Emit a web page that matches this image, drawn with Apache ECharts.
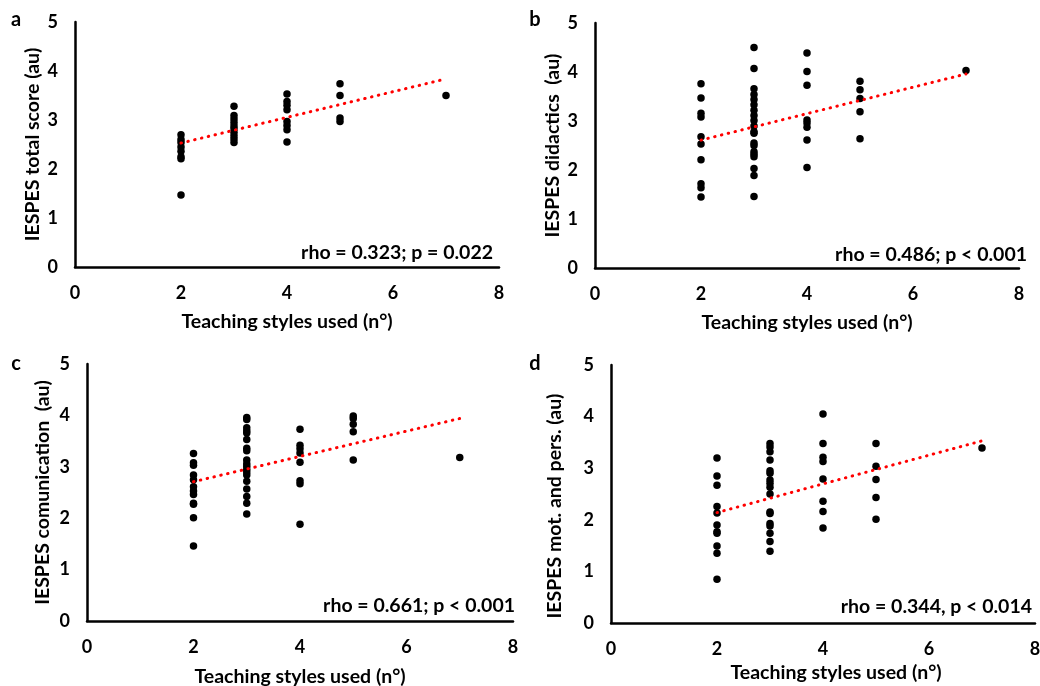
<!DOCTYPE html>
<html><head><meta charset="utf-8">
<script src="https://cdn.jsdelivr.net/npm/echarts@6/dist/echarts.min.js"></script>
<style>html,body{margin:0;padding:0;background:#fff}#c{width:1040px;height:686px}</style>
</head><body><div id="c"></div>
<script>
// x values (number of teaching styles used) shared by all panels
const styleCounts = [2, 3, 4, 5, 7];
const xTicks = [0, 2, 4, 6, 8];
const yTicks = [0, 1, 2, 3, 4, 5];

// panel a: IESPES total score, grouped by styleCounts
const totalScore = [
  [2.70, 2.60, 2.54, 2.45, 2.36, 2.25, 2.21, 1.47],
  [3.28, 3.09, 3.02, 2.95, 2.88, 2.82, 2.75, 2.68, 2.61, 2.54],
  [3.53, 3.38, 3.30, 3.21, 2.97, 2.89, 2.80, 2.55],
  [3.74, 3.50, 3.04, 2.97],
  [3.50]
];
// panel b: IESPES didactics
const didactics = [
  [3.76, 3.47, 3.16, 3.08, 2.68, 2.53, 2.21, 1.72, 1.64, 1.45],
  [4.50, 4.07, 3.66, 3.54, 3.44, 3.33, 3.22, 3.11, 3.01, 2.90, 2.78, 2.75, 2.55, 2.50, 2.37, 2.32, 2.27, 2.03, 1.89, 1.46],
  [4.39, 4.01, 3.73, 3.02, 2.96, 2.87, 2.61, 2.05],
  [3.81, 3.64, 3.46, 3.19, 2.64],
  [4.03]
];
// panel c: IESPES communication
const communication = [
  [3.26, 3.08, 3.03, 2.84, 2.75, 2.61, 2.53, 2.46, 2.29, 2.27, 2.01, 1.46],
  [3.96, 3.92, 3.76, 3.70, 3.66, 3.53, 3.36, 3.31, 3.13, 3.06, 3.01, 2.95, 2.90, 2.84, 2.72, 2.57, 2.42, 2.29, 2.08],
  [3.73, 3.42, 3.35, 3.27, 3.09, 2.73, 2.67, 1.88],
  [3.99, 3.94, 3.83, 3.68, 3.13],
  [3.18]
];
// panel d: IESPES motivation and personality
const motivation = [
  [3.20, 2.85, 2.67, 2.26, 2.13, 1.90, 1.77, 1.74, 1.49, 1.35, 0.85],
  [3.48, 3.41, 3.32, 3.16, 2.95, 2.90, 2.77, 2.71, 2.63, 2.50, 2.15, 2.12, 1.93, 1.88, 1.74, 1.58, 1.39],
  [4.05, 3.48, 3.21, 3.13, 2.79, 2.36, 2.16, 1.84],
  [3.48, 3.04, 2.78, 2.43, 2.01],
  [3.39]
];

// linear trend line endpoints [x, y]
const trendTotal = [[2, 2.53], [7, 3.84]];
const trendDidactics = [[2, 2.61], [7, 3.96]];
const trendCommunication = [[2, 2.71], [7, 3.94]];
const trendMotivation = [[2, 2.14], [7, 3.53]];

const panelLetters = ['a', 'b', 'c', 'd'];
const yNames = ['IESPES total score (au)', 'IESPES didactics  (au)', 'IESPES comunication  (au)', 'IESPES mot. and pers. (au)'];
const xName = 'Teaching styles used (n°)';
const stats = ['rho = 0.323; p = 0.022', 'rho = 0.486; p < 0.001', 'rho = 0.661; p < 0.001', 'rho = 0.344, p < 0.014'];

const FONT = 'Lato';
const panelData = [totalScore, didactics, communication, motivation];
const trends = [trendTotal, trendDidactics, trendCommunication, trendMotivation];
const layout = [
  {grid: {left: 75, top: 22, width: 424, height: 245}, letter: [16, 20], stat: [493, 253], yGap: 32, xGap: 45, yPad: [0, 0, 0, 0], xPad: [0, 0, 0, 0]},
  {grid: {left: 595, top: 23, width: 424, height: 245}, letter: [535, 20], stat: [1027, 255], yGap: 32, xGap: 45, yPad: [0, 0, 0, 0], xPad: [0, 0, 0, 0]},
  {grid: {left: 87, top: 364, width: 426, height: 257}, letter: [16, 364], stat: [515, 606], yGap: 34, xGap: 46, yPad: [0, 0, 0, 0], xPad: [0, 0, 0, 0]},
  {grid: {left: 611, top: 365, width: 424, height: 258}, letter: [535, 364], stat: [1032, 607], yGap: 46, xGap: 40, yPad: [0, 24, 0, 0], xPad: [0, 0, 0, 26]}
];

function pairs(groups) {
  const out = [];
  groups.forEach((g, i) => g.forEach(v => out.push([styleCounts[i], v])));
  return out;
}

const grid = [], xAxis = [], yAxis = [], series = [], graphic = [];
layout.forEach((L, i) => {
  grid.push(Object.assign({containLabel: false, outerBoundsMode: 'none'}, L.grid));
  const axisCommon = {
    gridIndex: i, type: 'value',
    axisLine: {show: true, onZero: false, lineStyle: {color: '#000', width: 2.5}},
    axisTick: {show: false},
    splitLine: {show: false},
    axisLabel: {color: '#000', fontFamily: FONT, fontWeight: 'bold', fontSize: 18, margin: 17},
    nameLocation: 'middle'
  };
  xAxis.push(Object.assign({}, axisCommon, {
    min: xTicks[0], max: xTicks[xTicks.length - 1], interval: xTicks[1] - xTicks[0],
    name: xName, nameGap: L.xGap,
    nameTextStyle: {color: '#000', fontFamily: FONT, fontWeight: 'bold', fontSize: 19.5, padding: L.xPad}
  }));
  yAxis.push(Object.assign({}, axisCommon, {
    min: yTicks[0], max: yTicks[yTicks.length - 1], interval: yTicks[1] - yTicks[0],
    name: yNames[i], nameGap: L.yGap,
    nameTextStyle: {color: '#000', fontFamily: FONT, fontWeight: 'bold', fontSize: 19.5, padding: L.yPad}
  }));
  series.push({
    type: 'scatter', xAxisIndex: i, yAxisIndex: i,
    data: pairs(panelData[i]), symbolSize: 7.5,
    itemStyle: {color: '#000', opacity: 1}, z: 2
  });
  series.push({
    type: 'line', xAxisIndex: i, yAxisIndex: i,
    data: trends[i], showSymbol: false, symbol: 'none',
    lineStyle: {color: '#FF0000', width: 3, type: [0.5, 6.5], cap: 'round'},
    z: 3, silent: true
  });
  graphic.push({
    type: 'text', x: L.letter[0], y: L.letter[1],
    style: {text: panelLetters[i], fill: '#000', fontFamily: FONT, fontWeight: 'bold', fontSize: 20, align: 'center', verticalAlign: 'middle'}
  });
  graphic.push({
    type: 'text', x: L.stat[0], y: L.stat[1],
    style: {text: stats[i], fill: '#000', fontFamily: FONT, fontWeight: 'bold', fontSize: 19.5, align: 'right', verticalAlign: 'middle'}
  });
});

const chart = echarts.init(document.getElementById('c'), null, {renderer: 'canvas'});
chart.setOption({
  backgroundColor: '#fff',
  animation: false,
  grid, xAxis, yAxis, series, graphic
});
</script>
</body></html>
